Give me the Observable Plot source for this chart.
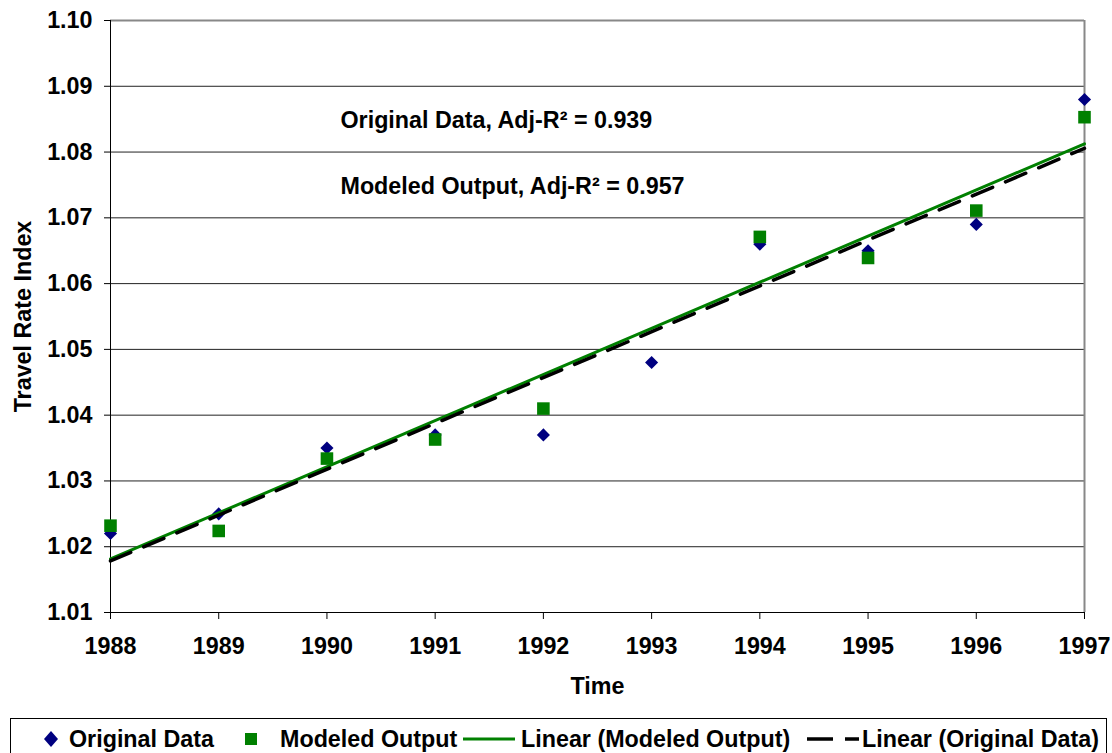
<!DOCTYPE html>
<html>
<head>
<meta charset="utf-8">
<script src="https://cdn.jsdelivr.net/npm/d3@7"></script>
<script src="https://cdn.jsdelivr.net/npm/@observablehq/plot@0.6"></script>
<style>
  html, body { margin: 0; padding: 0; background: #fff; }
  #wrap { position: relative; width: 1112px; height: 753px; overflow: hidden; font-family: 'Liberation Sans', Arial, sans-serif; font-weight: bold; }
  #legend { position: absolute; left: 10px; top: 718px; width: 1097px; height: 50px; border: 1px solid #000; box-sizing: border-box; background: #fff; }
  .item { position: absolute; top: 0; height: 40px; }
  .lab { position: absolute; top: 7px; font-size: 23.3px; white-space: nowrap; color: #000; }
</style>
</head>
<body>
<div id="wrap"></div>
<script>
// ---- data ----
const years = [1988, 1989, 1990, 1991, 1992, 1993, 1994, 1995, 1996, 1997];
const originalData = [1.022, 1.025, 1.035, 1.037, 1.037, 1.048, 1.066, 1.065, 1.069, 1.088];
const modeledOutput = [1.0232, 1.0224, 1.0334, 1.0363, 1.041, null, 1.0671, 1.0639, 1.0711, 1.0853];
const yTicks = [1.01, 1.02, 1.03, 1.04, 1.05, 1.06, 1.07, 1.08, 1.09, 1.10];
const xTicks = years;
const annotationText = ["Original Data, Adj-R\u00B2 = 0.939", "Modeled Output, Adj-R\u00B2 = 0.957"];
const annotationX = [1990.125, 1990.125];
const annotationY = [1.0848, 1.0748];
const legendLabels = ["Original Data", "Modeled Output", "Linear (Modeled Output)", "Linear (Original Data)"];

const origRows = years.map((t, i) => ({t, v: originalData[i]}));
const modRows = years.map((t, i) => ({t, v: modeledOutput[i]})).filter(d => d.v != null);
const annRows = annotationText.map((s, i) => ({s, x: annotationX[i], y: annotationY[i]}));

const navy = "#000080", green = "#008000";

const chart = Plot.plot({
  width: 1112,
  height: 710,
  marginLeft: 110,
  marginRight: 28,
  marginTop: 20,
  marginBottom: 98,
  style: {fontFamily: "'Liberation Sans', Arial, sans-serif", fontSize: "23.3px", fontWeight: "bold", color: "#000", background: "#fff", overflow: "visible"},
  x: {domain: [1988, 1997]},
  y: {domain: [1.01, 1.10]},
  marks: [
    Plot.gridY(yTicks.filter(v => v > 1.01 && v < 1.10), {stroke: "#222", strokeOpacity: 1, strokeWidth: 1}),
    Plot.ruleY([1.10], {stroke: "#888", strokeWidth: 2}),
    Plot.ruleX([1997], {stroke: "#888", strokeWidth: 2}),
    Plot.ruleY([1.01], {stroke: "#000", strokeWidth: 1}),
    Plot.ruleX([1988], {stroke: "#000", strokeWidth: 1}),
    Plot.axisY(yTicks, {tickSize: 6, tickPadding: 12, tickFormat: ".2f", label: null, stroke: "#000"}),
    Plot.axisX(xTicks, {tickSize: 7, tickPadding: 18, tickFormat: "d", label: null, stroke: "#000"}),
    Plot.text(["Time"], {frameAnchor: "bottom", lineAnchor: "middle", dy: 74, fill: "#000"}),
    Plot.text(["Travel Rate Index"], {frameAnchor: "left", textAnchor: "middle", lineAnchor: "middle", dx: -87, rotate: -90, fill: "#000"}),
    Plot.text(annRows, {x: "x", y: "y", text: "s", textAnchor: "start", lineAnchor: "middle", fill: "#000"}),
    Plot.dot(origRows, {x: "t", y: "v", symbol: "diamond2", r: 5.9, fill: navy, stroke: "none"}),
    Plot.dot(modRows, {x: "t", y: "v", symbol: "square", r: 7.1, fill: green, stroke: "none"}),
    Plot.linearRegressionY(modRows, {x: "t", y: "v", stroke: green, strokeWidth: 3, ci: 0}),
    Plot.linearRegressionY(origRows, {x: "t", y: "v", stroke: "#000", strokeWidth: 3.5, strokeDasharray: "22,14", ci: 0})
  ]
});

const wrap = document.getElementById("wrap");
wrap.appendChild(chart);

// ---- legend ----
const legend = document.createElement("div");
legend.id = "legend";
wrap.appendChild(legend);
const swatches = [
  {left: 25, svg: `<svg width="30" height="40"><path d="M15,12 L22,20 L15,28 L8,20 Z" fill="${navy}"/></svg>`, labLeft: 58},
  {left: 225, svg: `<svg width="30" height="40"><rect x="9" y="14" width="12" height="12" fill="${green}"/></svg>`, labLeft: 269},
  {left: 452, svg: `<svg width="54" height="40"><line x1="0" y1="20" x2="52" y2="20" stroke="${green}" stroke-width="3"/></svg>`, labLeft: 510},
  {left: 796, svg: `<svg width="54" height="40"><line x1="0" y1="20" x2="52" y2="20" stroke="#000" stroke-width="3.5" stroke-dasharray="26,12"/></svg>`, labLeft: 851}
];
swatches.forEach((s, i) => {
  const sw = document.createElement("div");
  sw.className = "item";
  sw.style.left = s.left + "px";
  sw.innerHTML = s.svg;
  legend.appendChild(sw);
  const lab = document.createElement("div");
  lab.className = "lab";
  lab.style.left = s.labLeft + "px";
  lab.textContent = legendLabels[i];
  legend.appendChild(lab);
});
</script>
</body>
</html>
